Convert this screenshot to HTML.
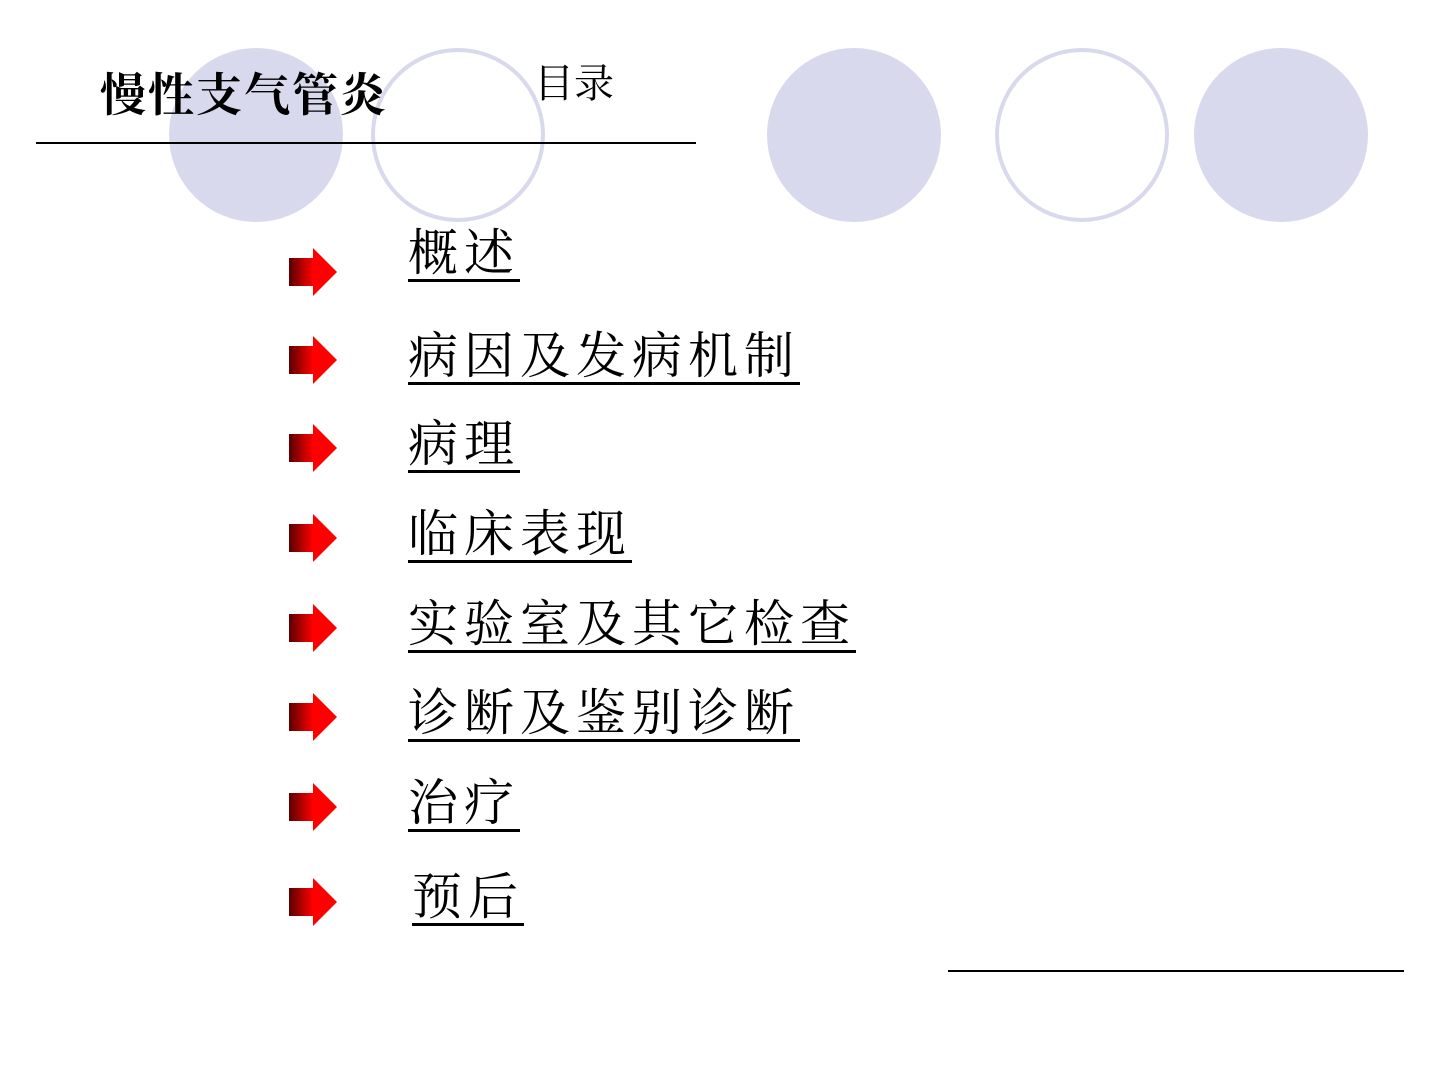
<!DOCTYPE html>
<html><head><meta charset="utf-8"><style>
body{margin:0;width:1440px;height:1080px;background:#fff;position:relative;overflow:hidden;font-family:"Liberation Serif","Noto Serif CJK SC",serif}
.c{position:absolute;width:174px;height:174px;border-radius:50%;box-sizing:border-box}
.f{background:#d9d9ee}
.o{border:4px solid #d9d9ee;background:transparent}
.l{position:absolute;height:2px;background:#000}
.t{position:absolute;left:408px;font-size:50px;line-height:50px;letter-spacing:6px;border-bottom:3px solid #000;padding-bottom:1px;color:#000;white-space:nowrap}
.a{position:absolute;left:288px;width:50px;height:50px}
</style></head><body>
<div class="c f" style="left:169px;top:48px"></div>
<div class="c o" style="left:371px;top:48px"></div>
<div class="c f" style="left:767px;top:48px"></div>
<div class="c o" style="left:995px;top:48px"></div>
<div class="c f" style="left:1194px;top:48px"></div>
<div style="position:absolute;left:100px;top:64px;font-size:46px;line-height:56px;letter-spacing:2px;font-weight:bold;font-family:'Noto Serif CJK SC',serif">慢性支气管炎</div>
<div style="position:absolute;left:534px;top:56px;font-size:40px;line-height:50px;font-family:'Noto Serif CJK SC',serif">目录</div>
<div class="l" style="left:36px;top:142px;width:660px"></div>
<div class="l" style="left:948px;top:970px;width:456px"></div>
<svg width="0" height="0" style="position:absolute"><defs><linearGradient id="g" x1="0" x2="1"><stop offset="0" stop-color="#5a0000"/><stop offset="0.5" stop-color="#ff0000"/><stop offset="1" stop-color="#ff0000"/></linearGradient></defs></svg>
<svg class="a" style="top:247px" viewBox="0 0 50 50"><path d="M1 11H25V1L49 25L25 49V39H1Z" fill="url(#g)"/></svg>
<svg class="a" style="top:335px" viewBox="0 0 50 50"><path d="M1 11H25V1L49 25L25 49V39H1Z" fill="url(#g)"/></svg>
<svg class="a" style="top:423px" viewBox="0 0 50 50"><path d="M1 11H25V1L49 25L25 49V39H1Z" fill="url(#g)"/></svg>
<svg class="a" style="top:513px" viewBox="0 0 50 50"><path d="M1 11H25V1L49 25L25 49V39H1Z" fill="url(#g)"/></svg>
<svg class="a" style="top:603px" viewBox="0 0 50 50"><path d="M1 11H25V1L49 25L25 49V39H1Z" fill="url(#g)"/></svg>
<svg class="a" style="top:692px" viewBox="0 0 50 50"><path d="M1 11H25V1L49 25L25 49V39H1Z" fill="url(#g)"/></svg>
<svg class="a" style="top:782px" viewBox="0 0 50 50"><path d="M1 11H25V1L49 25L25 49V39H1Z" fill="url(#g)"/></svg>
<svg class="a" style="top:877px" viewBox="0 0 50 50"><path d="M1 11H25V1L49 25L25 49V39H1Z" fill="url(#g)"/></svg>
<div class="t" style="top:228px">概述</div>
<div class="t" style="top:331px">病因及发病机制</div>
<div class="t" style="top:419px">病理</div>
<div class="t" style="top:509px">临床表现</div>
<div class="t" style="top:599px">实验室及其它检查</div>
<div class="t" style="top:688px">诊断及鉴别诊断</div>
<div class="t" style="top:778px">治疗</div>
<div class="t" style="top:872px;left:412px">预后</div>
</body></html>
